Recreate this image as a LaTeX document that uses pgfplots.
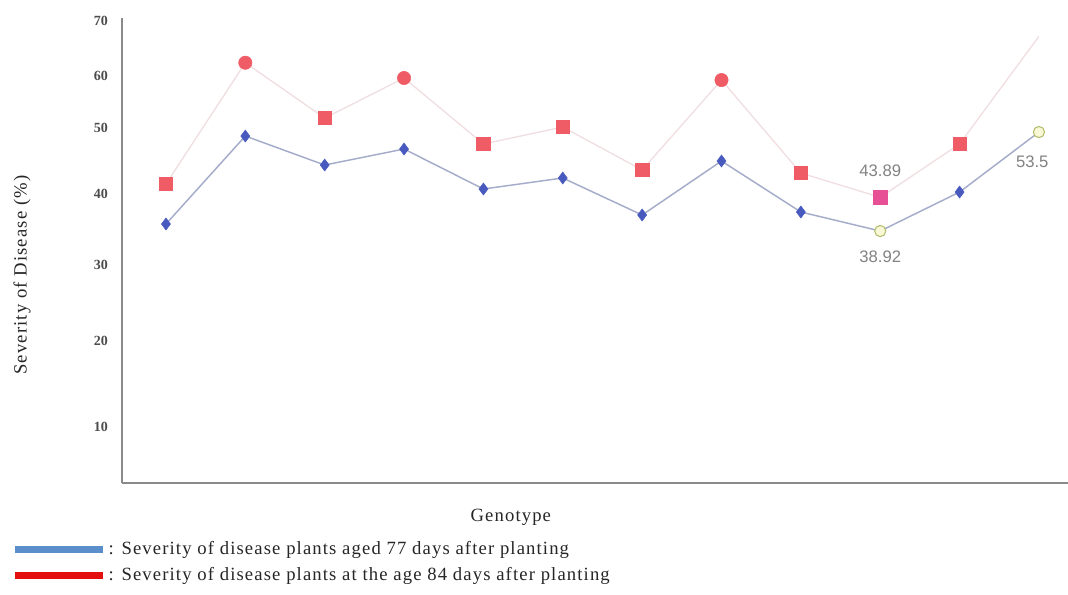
\documentclass[border=0pt]{standalone}
\usepackage{pgfplots}
\usepackage{pgfplotstable}
\pgfplotsset{compat=1.18}
\usepackage{fontspec}
\setmainfont{Liberation Serif}
\newfontfamily\lblfont[LetterSpace=6]{Liberation Serif}
\newfontfamily\annfont{Liberation Sans}

\definecolor{rmark}{RGB}{240,92,102}
\definecolor{pmark}{RGB}{232,80,150}
\definecolor{bmark}{RGB}{72,90,190}
\definecolor{ofill}{RGB}{248,248,214}
\definecolor{odraw}{RGB}{180,190,110}
\definecolor{bline}{RGB}{165,172,202}
\definecolor{rline}{RGB}{240,222,225}
\definecolor{axgray}{RGB}{138,138,138}
\definecolor{legblue}{RGB}{91,143,204}
\definecolor{legred}{RGB}{228,16,16}
\definecolor{anngray}{RGB}{130,130,130}

\pgfplotstableread{
x y c
0 45.84 sq
1 63.71 ci
2 55.56 sq
3 61.46 ci
4 51.74 sq
5 54.24 sq
6 47.91 sq
7 61.16 ci
8 47.46 sq
9 43.89 pk
10 51.74 sq
11 67.60 no
}\redtab

\pgfplotstableread{
x y c
0 39.95 d
1 52.91 d
2 48.64 d
3 51.00 d
4 45.11 d
5 46.73 d
6 41.28 d
7 49.23 d
8 41.72 d
9 38.92 o
10 44.66 d
11 53.50 o
}\bluetab

\begin{document}
\begin{tikzpicture}
\path[use as bounding box] (-91.5pt,-83.25pt) rectangle (709.5pt,362.25pt);
\begin{axis}[
  at={(0pt,0pt)}, anchor=south west,
  scale only axis,
  width=709.5pt, height=348.75pt,
  xmin=-0.554, xmax=11.366,
  ymin=1.8, ymax=70.3,
  axis x line=bottom, axis y line=left,
  axis line style={-, draw=axgray, line width=2pt},
  xtick=\empty,
  ytick={10.05,22.76,33.91,44.37,54.09,61.75,69.9},
  yticklabels={10,20,30,40,50,60,70},
  major tick length=0pt,
  /pgf/number format/assume math mode=true,
  yticklabel style={font=\bfseries\fontsize{10.5}{12}\selectfont, text=black!70, xshift=-7pt},
  xlabel={Genotype},
  ylabel={Severity of Disease (\%)},
  label style={font=\lblfont\fontsize{14}{16}\selectfont, text=black!85},
  xlabel style={at={(axis description cs:0.411,-0.073)}, anchor=center},
  ylabel style={at={(axis description cs:-0.1057,0.447)}, anchor=center},
  clip=false,
  legend style={
    at={(axis description cs:-0.1173,-0.114)}, anchor=north west,
    draw=none, fill=none, inner sep=0pt,
    font=\lblfont\fontsize{14}{16}\selectfont,
    cells={anchor=west},
    row sep=0pt,
    nodes={inner ysep=2.5pt, text height=11pt, text depth=3.5pt, text=black!85},
  },
  legend image code/.code={\draw[#1] (0pt,0pt) -- (66pt,0pt);},
]
\addlegendimage{legblue, line width=5pt}
\addlegendentry{: Severity of disease plants aged 77 days after planting}
\addlegendimage{legred, line width=5pt}
\addlegendentry{: Severity of disease plants at the age 84 days after planting}

\addplot[forget plot, rline, line width=1pt, no markers] table[x=x,y=y] {\redtab};
\addplot[forget plot, bline, line width=1.1pt, no markers] table[x=x,y=y] {\bluetab};

\addplot[forget plot, scatter, only marks, scatter src=explicit symbolic,
  skip coords between index={11}{12},
  scatter/classes={
    sq={mark=square*, mark size=5pt, draw=rmark, fill=rmark},
    ci={mark=*, mark size=5pt, draw=rmark, fill=rmark},
    pk={mark=square*, mark size=5pt, draw=pmark, fill=pmark},
    no={mark=none}}]
  table[x=x,y=y,meta=c] {\redtab};

\addplot[forget plot, scatter, only marks, scatter src=explicit symbolic,
  scatter/classes={
    d={mark=diamond*, mark size=4.5pt, draw=bmark, fill=bmark},
    o={mark=*, mark size=4.2pt, draw=odraw, fill=ofill, line width=0.8pt}}]
  table[x=x,y=y,meta=c] {\bluetab};

\node[font=\annfont\fontsize{12.5}{14}\selectfont, text=anngray] at (axis cs:9,43.89) [yshift=20pt] {43.89};
\node[font=\annfont\fontsize{12.5}{14}\selectfont, text=anngray] at (axis cs:9,38.92) [yshift=-19pt] {38.92};
\node[font=\annfont\fontsize{12.5}{14}\selectfont, text=anngray] at (axis cs:11,53.5) [yshift=-22.5pt, xshift=-5pt] {53.5};
\end{axis}
\end{tikzpicture}
\end{document}
